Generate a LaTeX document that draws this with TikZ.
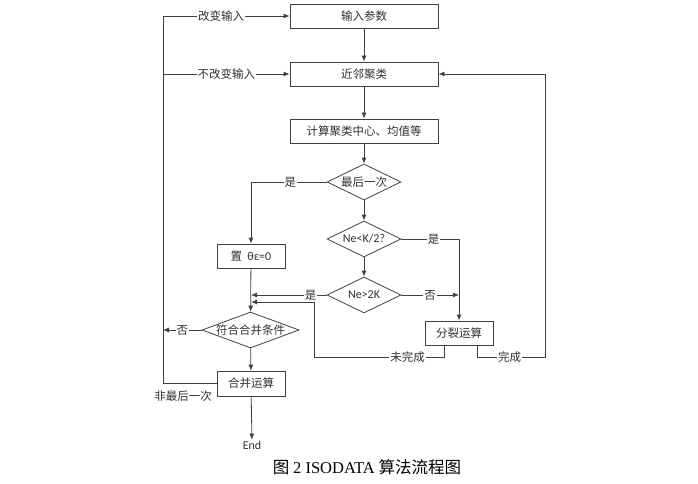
\documentclass[tikz,border=0pt]{standalone}
\usepackage{fontspec}
\usepackage{tikz}
\usetikzlibrary{arrows.meta, positioning, shapes.geometric, calc}
\setmainfont{Noto Sans CJK SC}
\newfontfamily\latinfont{Carlito}
\newfontfamily\capfont{Liberation Serif}
\definecolor{flowline}{HTML}{404040}
\definecolor{flowtext}{HTML}{303030}

\begin{document}
\begin{tikzpicture}[
    x=1pt, y=1pt,
    >={Latex[length=6pt, width=5pt]},
    procbox/.style={draw=flowline, thick, minimum width=#1, minimum height=24pt, inner sep=0pt, fill=white, text=flowtext, font=\fontsize{11.5}{13}\selectfont},
    procbox/.default=148pt,
    decision/.style={draw=flowline, thick, diamond, aspect=2, minimum width=#1, minimum height=36pt, inner sep=0pt, text=flowtext, font=\fontsize{11.5}{13}\selectfont},
    decision/.default=74pt,
    arrow/.style={->, thick, color=flowline},
    line/.style={thick, color=flowline},
    lbl/.style={fill=white, inner sep=1pt, text=flowtext, font=\fontsize{11.5}{13}\selectfont},
]
\useasboundingbox (0,0) rectangle (698,-484);

% Main column
\node[procbox] (input) at (364,-16) {输入参数};
\node[procbox] (cluster) at (364,-74) {近邻聚类};
\node[procbox] (centre) at (364,-131) {计算聚类中心、均值等};
\node[decision] (last) at (364,-182) {最后一次};
\node[decision, font=\latinfont\fontsize{12}{13}\selectfont] (small) at (364,-239) {Ne<K/2?};
\node[decision, font=\latinfont\fontsize{12}{13}\selectfont] (large) at (364,-295) {Ne>2K};

% Left column
\node[procbox=68pt] (reset) at (251,-256) {置\ \ {\latinfont\fontsize{12}{13}\selectfont θε=0}};
\node[decision=97pt, aspect=2.7, inner xsep=-4pt] (mergeq) at (250.5,-330) {符合合并条件};
\node[procbox=68pt, minimum height=25pt] (merge) at (251,-383.5) {合并运算};
\node[text=flowtext, font=\latinfont\fontsize{12}{13}\selectfont, inner sep=1pt] (finish) at (252,-445) {End};

% Right column
\node[procbox=68pt] (split) at (459,-333) {分裂运算};

% Helper points
\coordinate (undone) at (314,-357);
\coordinate (done) at (545,-357);
\coordinate (loop) at (163,-383.5);

% Arrows: main column
\draw[arrow] (input) -- (cluster);
\draw[arrow] (cluster) -- (centre);
\draw[arrow] (centre) -- (last);
\draw[arrow] (last) -- (small);
\draw[arrow] (small) -- (large);

% Arrows: branches
\draw[arrow] (last.west) -| node[lbl, pos=0.24] {是} (reset.north);
\draw[arrow] (small.east) -| node[lbl, pos=0.28] {是} (split.north);
\draw[arrow] (large.east) -- node[lbl] {否} (large.east -| split.north);
\draw[arrow] (large.west) -- node[lbl, pos=0.21] {是} (large.west -| reset.south);
\draw[arrow] (reset) -- (mergeq);
\draw[arrow] (mergeq) -- (merge);
\draw[arrow] (mergeq.west) -- node[lbl, pos=0.5] {否} (mergeq.west -| loop);
\draw[arrow] (merge) -- (finish);

% Feedback from split
\draw[arrow] ([xshift=-15pt]split.south) |- node[lbl, pos=0.64] {未完成} (undone) |- (reset.south |- 0,-302);
\draw[arrow] ([xshift=18pt]split.south) |- node[lbl, pos=0.74] {完成} (done) |- (cluster.east);

% Feedback from merge
\draw[arrow] (merge.west) -- (loop) |- node[lbl, pos=0.73] {改变输入} (input.west);
\draw[arrow] (loop |- cluster.west) -- node[lbl, pos=0.5] {不改变输入} (cluster.west);
\node[text=flowtext, font=\fontsize{11.5}{13}\selectfont, anchor=east, inner sep=0pt] (notlast) at (212,-396) {非最后一次};

% Caption
\node[text=black, font=\fontsize{16.5}{18}\selectfont, inner sep=0pt] (caption) at (367,-467) {图 {\capfont 2 ISODATA} 算法流程图};

\end{tikzpicture}
\end{document}
